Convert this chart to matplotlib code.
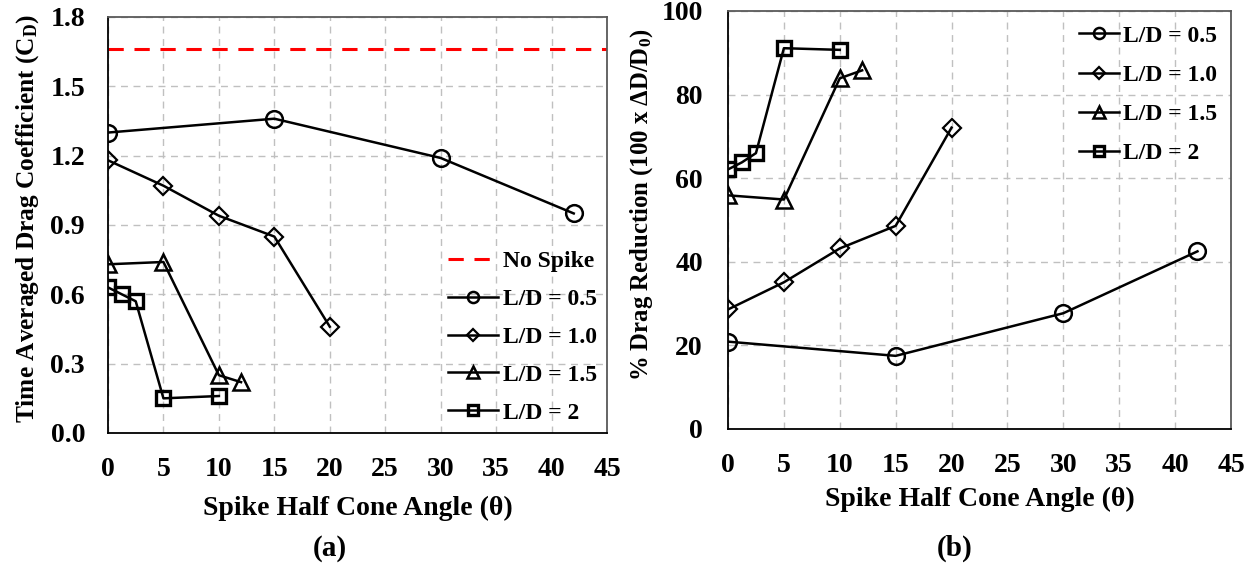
import matplotlib
matplotlib.use("Agg")
import matplotlib.pyplot as plt

plt.rcParams['font.family'] = ['Liberation Serif', 'DejaVu Serif']
plt.rcParams['font.weight'] = 'bold'
plt.rcParams['mathtext.fontset'] = 'custom'
plt.rcParams['mathtext.rm'] = 'Liberation Serif:bold'
plt.rcParams['mathtext.bf'] = 'Liberation Serif:bold'
plt.rcParams['mathtext.it'] = 'Liberation Serif:bold'

# ---- data: panel (a) drag coefficient ----
no_spike_cd = 1.66
x_ld05 = [0, 15, 30, 42]
cd_ld05 = [1.30, 1.36, 1.19, 0.95]
x_ld10 = [0, 5, 10, 15, 20]
cd_ld10 = [1.18, 1.07, 0.94, 0.85, 0.46]
x_ld15 = [0, 5, 10, 12]
cd_ld15 = [0.73, 0.74, 0.25, 0.22]
x_ld20 = [0, 1.25, 2.5, 5, 10]
cd_ld20 = [0.63, 0.60, 0.57, 0.15, 0.16]

# ---- data: panel (b) % drag reduction ----
dr_ld05 = [20.9, 17.5, 27.7, 42.5]
dr_ld10 = [28.6, 35.1, 43.2, 48.6, 72.1]
dr_ld15 = [55.9, 54.9, 83.9, 85.8]
dr_ld20 = [62.1, 63.8, 66.0, 91.1, 90.7]

labels = ['L/D = 0.5', 'L/D = 1.0', 'L/D = 1.5', 'L/D = 2']
xticks = list(range(0, 50, 5))
yticks_a = [0.0, 0.3, 0.6, 0.9, 1.2, 1.5, 1.8]
yticks_b = [0, 20, 40, 60, 80, 100]

W, H = 1256, 567
fig = plt.figure(figsize=(W / 100, H / 100), dpi=100)
axA = fig.add_axes([108 / W, (H - 433) / H, (607 - 108) / W, (433 - 17) / H])
axB = fig.add_axes([728 / W, (H - 429) / H, (1231 - 728) / W, (429 - 11) / H])

styles = [
    dict(marker='o', markersize=12, markeredgewidth=1.8),
    dict(marker='D', markersize=9, markeredgewidth=1.6),
    dict(marker='^', markersize=12, markeredgewidth=1.8),
    dict(marker='s', markersize=10, markeredgewidth=2.4),
]
leg_sizes = [8, 6, 8, 7]
TICK_FS = 20
HLABEL_FS = 20
LEG_FS = 17

def style_axes(ax, yticks, ylim, ypad):
    ax.set_xlim(0, 45)
    ax.set_ylim(*ylim)
    ax.set_xticks(xticks)
    ax.set_yticks(yticks)
    ax.grid(True, color='#c0c0c0', linestyle=(0, (5, 4)), linewidth=1.0)
    ax.set_axisbelow(True)
    ax.tick_params(length=0, labelsize=TICK_FS)
    ax.tick_params(axis='x', pad=17)
    ax.tick_params(axis='y', pad=ypad)
    for s in ['left', 'bottom']:
        ax.spines[s].set_color('black')
        ax.spines[s].set_linewidth(1.3)
    for s in ['top', 'right']:
        ax.spines[s].set_color('#595959')
        ax.spines[s].set_linewidth(1.3)
    for lab in ax.get_xticklabels() + ax.get_yticklabels():
        lab.set_fontweight('bold')

# ---- panel (a) ----
axA.axhline(no_spike_cd, color='red', linestyle=(0, (5, 3.5)), linewidth=2.2, label='No Spike', zorder=2)
xs = [x_ld05, x_ld10, x_ld15, x_ld20]
cds = [cd_ld05, cd_ld10, cd_ld15, cd_ld20]
drs = [dr_ld05, dr_ld10, dr_ld15, dr_ld20]
for x, y, st, lab in zip(xs, cds, styles, labels):
    axA.plot(x, y, color='black', linewidth=1.8, markerfacecolor='none',
             markeredgecolor='black', label=lab, zorder=3, **st)
style_axes(axA, yticks_a, (0, 1.8), 16.5)
axA.set_yticklabels([f'{v:.1f}' for v in yticks_a])
axA.set_xlabel('Spike Half Cone Angle (θ)', fontsize=HLABEL_FS, fontweight='bold')
axA.xaxis.set_label_coords(0.5, -0.15)
axA.set_ylabel('Time Averaged Drag Coefficient (C$_\\mathregular{D}$)', fontsize=18.3, fontweight='bold')
axA.yaxis.set_label_coords(-0.162, 0.516)
axA.yaxis.label.set_va('center')
legA = axA.legend(loc='lower right', frameon=False, handlelength=2.1,
                  handletextpad=0.25, labelspacing=0.69, borderaxespad=0.0,
                  prop={'weight': 'bold', 'size': LEG_FS})
for h, ms in zip(legA.legend_handles[1:], leg_sizes):
    h.set_markersize(ms)

# ---- panel (b) ----
for x, y, st, lab in zip(xs, drs, styles, labels):
    axB.plot(x, y, color='black', linewidth=1.8, markerfacecolor='none',
             markeredgecolor='black', label=lab, zorder=3, **st)
style_axes(axB, yticks_b, (0, 100), 18)
axB.set_xlabel('Spike Half Cone Angle (θ)', fontsize=HLABEL_FS, fontweight='bold')
axB.xaxis.set_label_coords(0.5, -0.138)
axB.set_ylabel('% Drag Reduction (100 x ΔD/D$_\\mathregular{0}$)', fontsize=17.8, fontweight='bold')
axB.yaxis.set_label_coords(-0.171, 0.536)
axB.yaxis.label.set_va('center')
legB = axB.legend(loc='upper right', frameon=False, handlelength=1.7,
                  handletextpad=0.15, labelspacing=0.75, borderaxespad=0.2,
                  prop={'weight': 'bold', 'size': LEG_FS})
for h, ms in zip(legB.legend_handles, leg_sizes):
    h.set_markersize(ms)

fig.text(330 / W, 1 - 548 / H, '(a)', fontsize=21, fontweight='bold', ha='center', va='center')
fig.text(955 / W, 1 - 548 / H, '(b)', fontsize=21, fontweight='bold', ha='center', va='center')

fig.savefig('out.png', dpi=100)
